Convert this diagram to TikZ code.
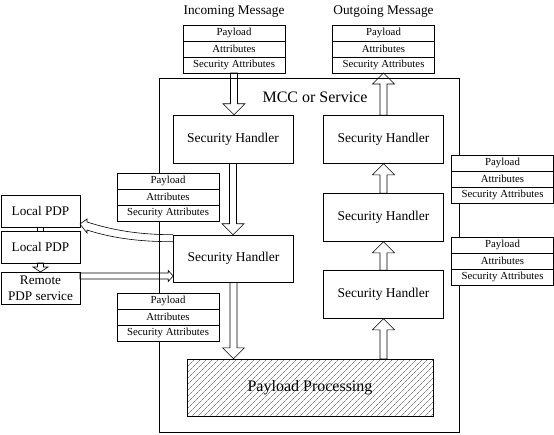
\documentclass[tikz,border=0pt]{standalone}
\usepackage{fontspec}
\setmainfont{Liberation Serif}
\usetikzlibrary{calc, positioning, patterns.meta}

\tikzset{
    field/.style={draw, fill=white, minimum width=102pt, minimum height=16pt, inner sep=0pt, outer sep=0pt, font=\fontsize{10.8}{12}\selectfont},
    handler/.style={draw, minimum width=120pt, minimum height=48pt, font=\fontsize{13.5}{15}\selectfont},
    pdp/.style={draw, minimum width=79pt, minimum height=32pt, inner sep=0pt, outer sep=0pt, align=center, font=\fontsize{13.2}{15.5}\selectfont},
    hollow/.style n args={3}{to path={
        ($(\tikztostart)!#1!90:(\tikztotarget)$)
        -- ($(\tikztotarget)!#3!(\tikztostart)!#1!-90:(\tikztostart)$)
        -- ($(\tikztotarget)!#3!(\tikztostart)!#2!-90:(\tikztostart)$)
        -- (\tikztotarget)
        -- ($(\tikztotarget)!#3!(\tikztostart)!#2!90:(\tikztostart)$)
        -- ($(\tikztotarget)!#3!(\tikztostart)!#1!90:(\tikztostart)$)
        -- ($(\tikztostart)!#1!-90:(\tikztotarget)$)
        -- cycle}},
    bigarrow/.style={hollow={3.5pt}{11pt}{11pt}}
}

\begin{document}
\begin{tikzpicture}[x=1pt, y=-1pt, line width=0.6pt]

    \useasboundingbox (0,0) rectangle (554,434);

    \node[draw, minimum width=300pt, minimum height=354pt] (mcc) at (309,255) {};

    \node[font=\fontsize{16}{19}\selectfont] (mcctitle) at (315,97) {MCC or Service};

    \node[font=\fontsize{13.3}{15}\selectfont] (intitle) at (234,12) {Incoming Message};

    \node[font=\fontsize{13.3}{15}\selectfont] (outtitle) at (383.5,12) {Outgoing Message};


    \node[handler] (sh1) at (233,139) {Security Handler};

    \node[handler, minimum height=47pt] (sh2) at (233.5,258.5) {Security Handler};

    \node[handler] (sh3) at (383.5,139.5) {Security Handler};

    \node[handler] (sh4) at (383.5,217.5) {Security Handler};

    \node[handler] (sh5) at (383.5,294.5) {Security Handler};

    \node[draw, pattern={Lines[angle=45, distance=4pt, line width=0.4pt]}, pattern color=black!75,
          minimum width=246pt, minimum height=57pt, font=\fontsize{16}{19}\selectfont] (proc) at (310,387.5) {Payload Processing};


    \foreach \nm/\px/\py in {in/234/33, out/383.5/33, la/168/181, lb/168/301, ra/502.5/163, rb/502.5/245}
    {
        \node[field] (\nm pay) at (\px,\py) {Payload};
        \node[field, anchor=north] (\nm att) at (\nm pay.south) {Attributes};
        \node[field, anchor=north] (\nm sec) at (\nm att.south) {Security Attributes};
    }


    \node[pdp] (pdp1) at (40.5,211) {Local PDP};

    \node[pdp, below=4pt of pdp1] (pdp2) {Local PDP};

    \node[pdp, below=9pt of pdp2] (remote) {Remote\\PDP service};

    \draw ($(pdp1.south)+(-3,0)$) rectangle ($(pdp2.north)+(3,0)$);

    \draw[hollow={3pt}{7.5pt}{5pt}] (pdp2.south) to (remote.north);


    \draw[bigarrow] (insec.south) to (insec.south |- sh1.north);

    \draw[bigarrow] (sh1.south) to (sh1.south |- sh2.north);

    \draw[bigarrow] (sh2.south) to (sh2.south |- proc.north);

    \draw[bigarrow] (sh5.south |- proc.north) to (sh5.south);

    \draw[bigarrow] (sh5.north) to (sh4.south);

    \draw[bigarrow] (sh4.north) to (sh3.south);

    \draw[bigarrow] (sh3.north) to (sh3.north |- outsec.south);


    \coordinate (rp) at ($(remote.north east)+(0,4)$);

    \draw[hollow={3pt}{5.5pt}{5pt}] (rp) to (rp -| sh2.west);

    \draw (sh2.north west) .. controls +(-35,0) and +(25,8) .. ($(pdp1.south east)+(7,-5)$)
        -- ++(0,-3) -- ($(pdp1.south east)+(0,-3)$) -- ++(7,9) -- ++(0,-3)
        .. controls +(25,8) and +(-35,0) .. ($(sh2.north west)+(0,7)$);

\end{tikzpicture}
\end{document}
